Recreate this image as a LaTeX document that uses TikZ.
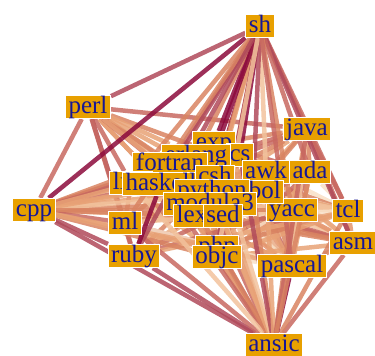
\documentclass[tikz,border=0pt]{standalone}
\usepackage{fontspec}
\setmainfont{Liberation Serif}
\definecolor{boxc}{HTML}{E8A000}
\definecolor{txtc}{HTML}{161696}
\definecolor{mc1}{HTML}{8C0A3C}
\definecolor{mc2}{HTML}{B04A5A}
\definecolor{mc3}{HTML}{C86860}
\definecolor{mc4}{HTML}{D98462}
\definecolor{mc5}{HTML}{E8A276}
\definecolor{mc6}{HTML}{F2C29C}
\definecolor{mc7}{HTML}{F8DFC6}
\definecolor{mc8}{HTML}{E4946C}
\pgfdeclarelayer{bg}
\pgfsetlayers{bg,main}
\begin{document}
\begin{tikzpicture}[x=1pt,y=-1pt,
  lang/.style={fill=boxc, draw=white, line width=1pt, text=txtc,
    font=\fontsize{25}{25}\selectfont, inner xsep=3pt, inner ysep=0.5pt,
    text height=17pt, text depth=5pt},
  edge/.style={line width=4.5pt, opacity=0.85}]
\useasboundingbox (0,0) rectangle (375,356);
% nodes
\node[lang] (sh) at (260,26) {sh};
\node[lang] (perl) at (88,107) {perl};
\node[lang] (java) at (307,129) {java};
\node[lang] (cpp) at (34,210) {cpp};
\node[lang] (ansic) at (274,345) {ansic};
\node[lang] (tcl) at (348,211) {tcl};
\node[lang] (asm) at (353,243) {asm};
\node[lang] (pascal) at (292,266) {pascal};
\node[lang] (ruby) at (134,256) {ruby};
\node[lang] (ml) at (125,223) {ml};
\node[lang] (ada) at (310,172) {ada};
\node[lang] (yacc) at (292,210) {yacc};
\node[lang] (exp) at (214,143) {exp};
\node[lang] (cs) at (240,155) {cs};
\node[lang] (erlang) at (196,156) {erlang};
\node[lang] (fortran) at (170,164) {fortran};
\node[lang] (awk) at (266,172) {awk};
\node[lang] (lisp) at (131,183) {lisp};
\node[lang] (haskell) at (161,184) {haskell};
\node[lang] (csh) at (215,177) {csh};
\node[lang] (cobol) at (253,192) {cobol};
\node[lang] (python) at (212,191) {python};
\node[lang] (modula3) at (210,204) {modula3};
\node[lang] (lex) at (192,216) {lex};
\node[lang] (sed) at (223,216) {sed};
\node[lang] (php) at (217,247) {php};
\node[lang] (objc) at (217,257) {objc};
% edges
\begin{pgfonlayer}{bg}
\pgfmathsetseed{11}
\foreach \a [count=\i] in {exp,erlang,cs,fortran,lisp,haskell,csh,awk,ada,python,cobol,modula3,lex,sed,yacc,php,objc,ml,ruby,pascal,tcl,asm}{
  \foreach \b [count=\j] in {exp,erlang,cs,fortran,lisp,haskell,csh,awk,ada,python,cobol,modula3,lex,sed,yacc,php,objc,ml,ruby,pascal,tcl,asm}{
    \ifnum\j>\i
      \pgfmathrandominteger{\s}{0}{9}
      \ifnum\s<6
        \pgfmathrandominteger{\k}{3}{8}
        \draw[edge, color=mc\k] (\a) -- (\b);
      \fi
    \fi
  }
}
\foreach \b/\c in {exp/mc4,cs/mc3,awk/mc5,ada/mc4,tcl/mc3,asm/mc3,yacc/mc5,python/mc5,cobol/mc4,pascal/mc6,csh/mc4}
  \draw[edge, color=\c] (java) -- (\b);
\foreach \b/\c in {java/mc3,lisp/mc3,haskell/mc4,fortran/mc5,python/mc4,csh/mc5,awk/mc4,lex/mc5,sed/mc3,ml/mc2,ruby/mc3,erlang/mc5,modula3/mc5,cpp/mc3}
  \draw[edge, color=\c] (perl) -- (\b);
\foreach \b/\c in {lisp/mc4,haskell/mc3,fortran/mc5,erlang/mc3,exp/mc4,python/mc5,modula3/mc4,lex/mc5,sed/mc4,ml/mc3,ruby/mc2,php/mc5,objc/mc4,csh/mc5,cobol/mc6,awk/mc5,yacc/mc4,pascal/mc5,java/mc3,cs/mc5}
  \draw[edge, color=\c] (cpp) -- (\b);
\foreach \b/\c in {cpp/mc2,ruby/mc2,ml/mc3,asm/mc3,tcl/mc4,pascal/mc1,yacc/mc4,php/mc2,objc/mc3,lex/mc5,sed/mc4,modula3/mc3,python/mc6,cobol/mc4,csh/mc5,haskell/mc3,lisp/mc6,fortran/mc4,erlang/mc5,exp/mc6,cs/mc2,awk/mc5,java/mc3,ada/mc4}
  \draw[edge, color=\c] (ansic) -- (\b);
\foreach \b/\c in {perl/mc2,cpp/mc1,java/mc2,tcl/mc3,asm/mc2,exp/mc1,erlang/mc4,cs/mc1,fortran/mc3,lisp/mc4,haskell/mc2,csh/mc1,awk/mc6,ada/mc3,python/mc4,cobol/mc2,modula3/mc5,lex/mc1,sed/mc3,yacc/mc4,php/mc2,objc/mc6,pascal/mc3,ml/mc4,ruby/mc2}
  \draw[edge, color=\c] (sh) -- (\b);
\draw[edge, color=mc1] (ruby) -- (haskell);
\end{pgfonlayer}
\end{tikzpicture}
\end{document}
